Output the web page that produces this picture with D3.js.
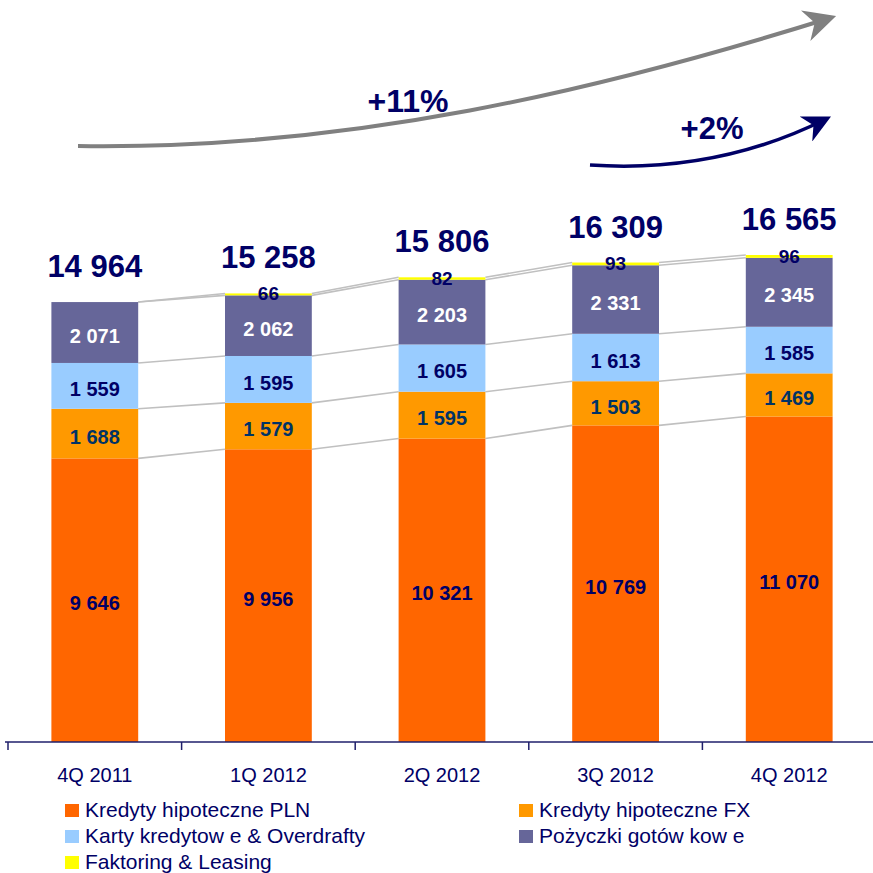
<!DOCTYPE html>
<html>
<head>
<meta charset="utf-8">
<script src="https://cdn.jsdelivr.net/npm/d3@7"></script>
<style>
  body { margin: 0; background: #fff; }
  text { font-family: "Liberation Sans", Arial, sans-serif; }
</style>
</head>
<body>
<div id="chart"></div>
<script>
// data
var quarters = ["4Q 2011", "1Q 2012", "2Q 2012", "3Q 2012", "4Q 2012"];
var seriesNames = ["Kredyty hipoteczne PLN", "Kredyty hipoteczne FX", "Karty kredytow e & Overdrafty", "Pożyczki gotów kow e", "Faktoring & Leasing"];
var plnValues = [9646, 9956, 10321, 10769, 11070];
var fxValues = [1688, 1579, 1595, 1503, 1469];
var kartyValues = [1559, 1595, 1605, 1613, 1585];
var pozyczkiValues = [2071, 2062, 2203, 2331, 2345];
var faktoringValues = [0, 66, 82, 93, 96];
var totals = [14964, 15258, 15806, 16309, 16565];
var growthLabels = ["+11%", "+2%"];

var colors = ["#FF6600", "#FF9900", "#99CCFF", "#666699", "#FFFF00"];
var labelColors = ["#000066", "#003366", "#000066", "#ffffff", "#000066"];
var navy = "#000066";

var width = 873, height = 873;
var axisY = 742;

var svg = d3.select("#chart").append("svg").attr("id", "svg")
    .attr("width", width).attr("height", height);

var x = d3.scaleBand().domain(quarters).range([8, 876]).paddingInner(0.5).paddingOuter(0.25);
var y = d3.scaleLinear().domain([0, 16565]).range([axisY, 255]);

var allSeries = [plnValues, fxValues, kartyValues, pozyczkiValues, faktoringValues];
var rows = quarters.map(function (q, i) {
    var r = {quarter: q};
    seriesNames.forEach(function (s, k) { r[s] = allSeries[k][i]; });
    return r;
});
var stacked = d3.stack().keys(seriesNames)(rows);

function fmt(v) {
    return d3.format(",")(v).replace(/,/g, " ");
}

// connecting lines between bars
var connectors = svg.append("g").attr("class", "connectors");
stacked.forEach(function (layer) {
    for (var i = 0; i < quarters.length - 1; i++) {
        connectors.append("line")
            .attr("x1", x(quarters[i]) + x.bandwidth()).attr("y1", y(layer[i][1]))
            .attr("x2", x(quarters[i + 1])).attr("y2", y(layer[i + 1][1]))
            .attr("stroke", "#C0C0C0").attr("stroke-width", 1.6);
    }
});

// bars
var layers = svg.append("g").selectAll("g").data(stacked).enter().append("g")
    .attr("fill", function (d, k) { return colors[k]; });
layers.selectAll("rect").data(function (d) { return d; }).enter().append("rect")
    .attr("x", function (d) { return x(d.data.quarter); })
    .attr("y", function (d) { return y(d[1]); })
    .attr("width", x.bandwidth())
    .attr("height", function (d) { return y(d[0]) - y(d[1]); });

// segment labels
stacked.forEach(function (layer, k) {
    layer.forEach(function (d, i) {
        var v = d[1] - d[0];
        if (v <= 0) return;
        var cx = x(quarters[i]) + x.bandwidth() / 2;
        var cy = k === 4 ? y(d[0]) - 2 : (y(d[0]) + y(d[1])) / 2 + 3;
        svg.append("text").text(fmt(v))
            .attr("x", cx).attr("y", cy)
            .attr("dy", "0.36em")
            .attr("text-anchor", "middle")
            .attr("font-size", k === 4 ? "19px" : "20px")
            .attr("font-weight", "bold")
            .attr("fill", labelColors[k]);
    });
});

// totals
svg.append("g").selectAll("text").data(totals).enter().append("text")
    .text(function (d) { return fmt(d); })
    .attr("x", function (d, i) { return x(quarters[i]) + x.bandwidth() / 2; })
    .attr("y", function (d) { return y(d) - 25; })
    .attr("text-anchor", "middle")
    .attr("font-size", "31px").attr("font-weight", "bold").attr("fill", navy);

// axis
var axis = svg.append("g").attr("transform", "translate(0," + axisY + ")");
axis.append("line").attr("x1", 5).attr("x2", 873).attr("y1", 0).attr("y2", 0)
    .attr("stroke", "#1F1F6B").attr("stroke-width", 1.5);
var tickPos = quarters.map(function (q) { return x(q) - x.step() * 0.5 + x.bandwidth() / 2; });
tickPos.push(x(quarters[quarters.length - 1]) + x.bandwidth() / 2 + x.step() * 0.5);
axis.selectAll("line.tick").data(tickPos).enter().append("line").attr("class", "tick")
    .attr("x1", function (d) { return d; }).attr("x2", function (d) { return d; })
    .attr("y1", 0).attr("y2", 8).attr("stroke", "#1F1F6B").attr("stroke-width", 1.5);
axis.selectAll("text").data(quarters).enter().append("text")
    .text(function (d) { return d; })
    .attr("x", function (d) { return x(d) + x.bandwidth() / 2; })
    .attr("y", 40)
    .attr("text-anchor", "middle").attr("font-size", "20px").attr("fill", navy);

// legend
var legendPos = [[65, 804], [519, 804], [65, 830], [519, 830], [65, 856]];
var legend = svg.append("g").selectAll("g").data(seriesNames).enter().append("g")
    .attr("transform", function (d, k) { return "translate(" + legendPos[k][0] + "," + legendPos[k][1] + ")"; });
legend.append("rect").attr("width", 14).attr("height", 13)
    .attr("fill", function (d, k) { return colors[k]; });
legend.append("text").text(function (d) { return d; })
    .attr("x", 20).attr("y", 13).attr("font-size", "21px").attr("fill", navy);

// growth arrows
var defs = svg.append("defs");
function addMarker(id, color, size) {
    defs.append("marker").attr("id", id).attr("viewBox", "0 0 10 10")
        .attr("refX", 8).attr("refY", 5)
        .attr("markerUnits", "userSpaceOnUse").attr("orient", "auto")
        .attr("markerWidth", size).attr("markerHeight", size)
        .append("path").attr("d", "M0,0 L10,5 L0,10 L3,5 Z").attr("fill", color);
}
addMarker("arrowGray", "#808080", 32);
addMarker("arrowBlue", navy, 28);

svg.append("path")
    .attr("d", "M78,146 C350,150 600,90 830,18")
    .attr("fill", "none").attr("stroke", "#808080").attr("stroke-width", 4)
    .attr("marker-end", "url(#arrowGray)");
svg.append("path")
    .attr("d", "M590,165 C680,171 760,152 826,119")
    .attr("fill", "none").attr("stroke", navy).attr("stroke-width", 3.5)
    .attr("marker-end", "url(#arrowBlue)");

svg.append("text").text(growthLabels[0]).attr("x", 408).attr("y", 112)
    .attr("text-anchor", "middle").attr("font-size", "32px").attr("font-weight", "bold").attr("fill", navy);
svg.append("text").text(growthLabels[1]).attr("x", 712).attr("y", 139)
    .attr("text-anchor", "middle").attr("font-size", "31px").attr("font-weight", "bold").attr("fill", navy);
</script>
</body>
</html>
